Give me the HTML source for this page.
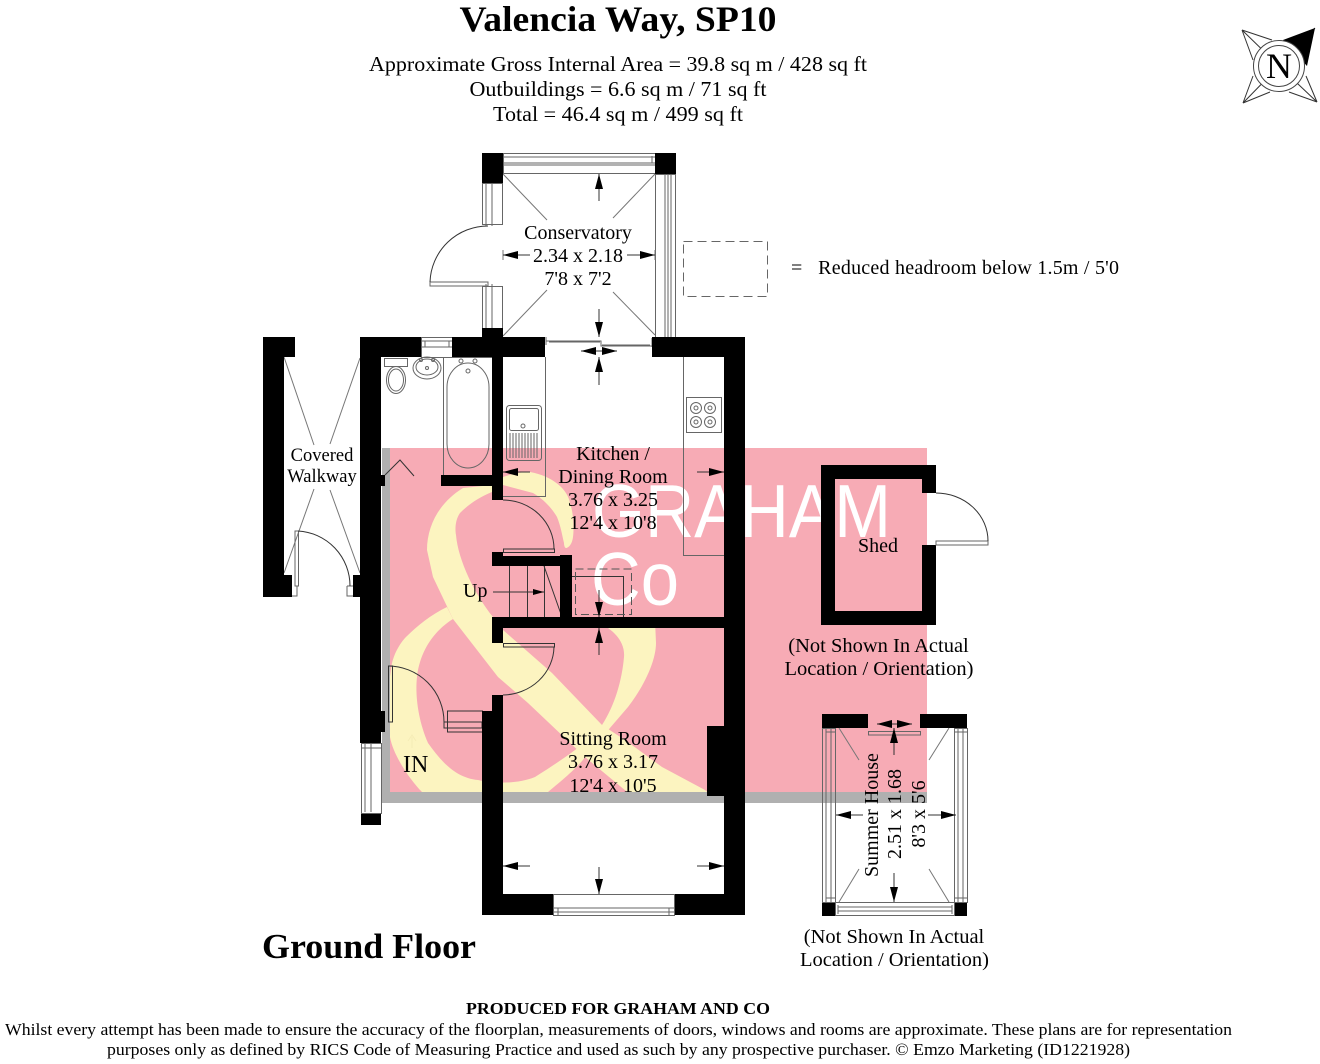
<!DOCTYPE html>
<html><head><meta charset="utf-8"><style>
html,body{margin:0;padding:0;background:#fff}
svg{display:block}
text{font-family:"Liberation Serif",serif;fill:#000;font-size:20px}
.c{text-anchor:middle}
.t{fill:none;stroke:#333;stroke-width:1}
.g{fill:none;stroke:#777;stroke-width:1}
.w{fill:none;stroke:#666;stroke-width:1}
.a{stroke:#333;stroke-width:1;fill:none;marker-end:url(#m)}
</style></head><body>
<svg width="1320" height="1064" viewBox="0 0 1320 1064" xmlns="http://www.w3.org/2000/svg">
<defs>
<marker id="m" markerUnits="userSpaceOnUse" markerWidth="16" markerHeight="10" refX="15" refY="4" orient="auto"><path d="M0,0L15,4L0,8Z" fill="#000"/></marker>
<marker id="s" markerUnits="userSpaceOnUse" markerWidth="12" markerHeight="8" refX="11" refY="3" orient="auto"><path d="M0,0L11,3L0,6Z" fill="#000"/></marker>
<clipPath id="p"><rect x="390" y="448" width="537" height="344"/></clipPath>
</defs>

<!-- watermark -->
<rect x="382" y="448" width="545" height="355" fill="#b0b0b0"/>
<rect x="390" y="448" width="537" height="344" fill="#f7abb5"/>
<g clip-path="url(#p)" fill="#fcf4c0">
<path d="M427,550C427,525 440,502 463,488L492,485L503,477C515,473 522,472 530,472C553,476 568,490 570,503C574,515 574,530 573,537C572,545 568,548 566,548C565,548 564,546 564,543C562,535 561,527 557,517C553,510 545,500 533,493L503,485L492,492C480,497 470,503 460,513C455,520 455,530 456,535C458,560 475,595 493,617L503,630L552,673L602,725L625,740L662,767L705,790L712,796L632,796L585,757L528,703L498,677L453,619L433,577Z"/>
<path d="M447,607C430,615 415,628 405,638C398,646 394,655 392,663C387,690 388,720 390,737C393,755 410,780 422,792L548,792C565,778 580,765 585,757L628,707C645,685 656,660 656,643L655,620L606,620L608,628C618,635 625,645 624,657C622,680 615,705 602,725C590,740 570,755 535,777C515,785 490,783 478,780C455,778 440,760 428,743C418,720 415,695 417,677C420,650 435,630 453,619Z"/>
</g>
<text x="592" y="537" style="font-family:'Liberation Sans',sans-serif;font-size:75px;fill:#fff" textLength="299" lengthAdjust="spacingAndGlyphs">GRAHAM</text>
<text x="591" y="605" style="font-family:'Liberation Sans',sans-serif;font-size:75px;fill:#fff" textLength="88" lengthAdjust="spacingAndGlyphs">Co</text>

<!-- header -->
<text x="618" y="31" class="c" style="font-size:36px;font-weight:bold" textLength="317" lengthAdjust="spacingAndGlyphs">Valencia Way, SP10</text>
<text x="618" y="71" class="c" style="font-size:21.5px" textLength="498" lengthAdjust="spacingAndGlyphs">Approximate Gross Internal Area = 39.8 sq m / 428 sq ft</text>
<text x="618" y="96" class="c" style="font-size:21.5px" textLength="297" lengthAdjust="spacingAndGlyphs">Outbuildings = 6.6 sq m / 71 sq ft</text>
<text x="618" y="121" class="c" style="font-size:21.5px" textLength="250" lengthAdjust="spacingAndGlyphs">Total = 46.4 sq m / 499 sq ft</text>

<!-- compass -->
<path class="t" d="M1242,30L1272,40M1242,30L1253,60M1242,30L1279,66M1315,28L1279,66M1243,103L1253,76M1243,103L1270,92M1243,103L1279,66M1317,102L1306,76M1317,102L1289,92M1317,102L1279,66"/>
<path d="M1315,28L1283,40L1307,66Z" fill="#000"/>
<circle cx="1279" cy="66" r="25.5" fill="#fff" stroke="#444"/>
<circle cx="1279" cy="66" r="20.5" fill="#fff" stroke="#444"/>
<text x="1279" y="78" class="c" style="font-size:36px">N</text>

<!-- legend -->
<rect x="683.5" y="241.5" width="84" height="55" fill="none" stroke="#666" stroke-dasharray="9 5"/>
<text x="791" y="274" style="font-size:20px" textLength="328" xml:space="preserve">=   Reduced headroom below 1.5m / 5'0</text>

<!-- conservatory windows -->
<g class="w">
<rect x="503.5" y="153.5" width="152" height="20"/><path d="M503,157H655M503,163H655M503,165H655M503,156V163M652,156V163"/>
<rect x="655.5" y="174.5" width="20" height="163"/><path d="M665,174V337M668,174V337M671,174V337"/>
<rect x="482.5" y="183.5" width="20" height="41"/><path d="M486,183V226M492,183V226"/>
<rect x="482.5" y="286.5" width="20" height="42"/><path d="M486,284V328M492,284V328"/>
<path d="M546,341H601V346H652M546,337V345M601,341V346M652,338V347M549,342H600M602,345H650"/>
</g>
<path class="w" d="M430,282H488V286H430Z"/>
<path class="t" d="M430,282A58,58 0 0 1 488,226"/>
<path class="g" d="M503,174L547,220M655,174L613,218M503,336L547,290M655,335L613,292"/>
<path class="g" d="M503,250V260M655,250V260"/>
<path class="a" d="M599,201V174"/><path class="a" d="M530,255H503"/><path class="a" d="M627,255H655"/>
<path class="a" d="M599,309V337"/><path class="a" d="M599,385V357"/>
<path class="a" d="M599,351H581"/><path class="a" d="M599,351H617"/>

<!-- fixtures -->
<g class="w">
<rect x="421.5" y="337.5" width="31" height="20"/><path d="M421,341H452M421,347H452M425,341V347M449,341V347"/>
<rect x="443.5" y="357.5" width="49" height="118"/>
<rect x="447" y="363" width="42" height="105" rx="21" ry="24"/>
<circle cx="461" cy="361" r="2"/><circle cx="475" cy="361" r="2"/><circle cx="468" cy="371" r="2"/>
<rect x="384.5" y="358.5" width="23" height="8"/>
<ellipse cx="396" cy="380" rx="9.5" ry="13.5"/><ellipse cx="396" cy="380" rx="7.5" ry="11"/>
<ellipse cx="427" cy="368" rx="14" ry="11"/><ellipse cx="427" cy="367" rx="11" ry="8"/>
<circle cx="421" cy="360" r="1.5"/><circle cx="433" cy="360" r="1.5"/><circle cx="427" cy="368" r="1.5"/>
<path d="M545.5,357V496.5H503"/>
<rect x="506.5" y="405.5" width="35" height="55" rx="3"/>
<rect x="509.5" y="408.5" width="29" height="22" rx="2"/>
<circle cx="523" cy="426" r="2"/>
<path d="M510,433V458M513,433V458M516,433V458M519,433V458M522,433V458M525,433V458M528,433V458M531,433V458M534,433V458M537,433V458"/>
<path d="M683.5,357V555.5H724"/>
<rect x="686.5" y="397.5" width="35" height="35" fill="#fff"/>
<circle cx="696" cy="408" r="5.5"/><circle cx="710" cy="408" r="5.5"/><circle cx="696" cy="422" r="5.5"/><circle cx="710" cy="422" r="5.5"/>
<circle cx="696" cy="408" r="2"/><circle cx="710" cy="408" r="2"/><circle cx="696" cy="422" r="2"/><circle cx="710" cy="422" r="2"/>
</g>
<path class="a" d="M530,472H503"/><path class="a" d="M697,472H724"/>

<!-- stairs -->
<g class="t">
<path d="M509.5,566V617M527.5,566V617M544.5,566V617M544,566L562,617M572,576.5H623.5V617"/>
</g>
<path class="t" d="M493,592H544" marker-end="url(#s)"/>
<rect x="575.5" y="569" width="56" height="45.5" fill="none" stroke="#555" stroke-dasharray="8 4"/>
<path class="a" d="M599,590V617"/><path class="a" d="M599,655V628"/>
<path class="t" d="M385,475L400,460L414,476"/>

<!-- doors -->
<rect x="503.5" y="549" width="51" height="3.5" class="t"/>
<path class="t" d="M503,500A51,49 0 0 1 554,549"/>
<rect x="503.5" y="643.5" width="51" height="3.5" class="t"/>
<path class="t" d="M554,647A52,49 0 0 1 503,695"/>
<rect x="388.5" y="666" width="4" height="56" class="t"/>
<path class="t" d="M388,666A56,56 0 0 1 444,722"/>
<g class="t"><rect x="447.5" y="711" width="35" height="21"/><rect x="444" y="722" width="38" height="6"/></g>
<path d="M412,748V737M408,741L412,735L416,741" stroke="#f5ecb6" fill="none"/>

<!-- walkway -->
<path class="g" d="M284,357L314,445M360,358L330,444M314,489L284,573M330,490L360,573"/>
<rect x="295" y="531" width="3.5" height="55" class="w"/>
<path class="w" d="M291,586V596H297V586M347,586H353M347,586V596H353"/>
<path class="t" d="M298,531A55,55 0 0 1 350,586"/>

<!-- walls -->
<g fill="#000">
<rect x="263" y="337" width="21" height="260"/><rect x="263" y="337" width="32" height="20"/><rect x="263" y="575" width="29" height="22"/>
<rect x="353" y="575" width="8" height="22"/>
<rect x="360" y="337" width="61" height="20"/><rect x="452" y="337" width="93" height="20"/><rect x="652" y="337" width="93" height="20"/>
<rect x="360" y="337" width="21" height="406"/>
<rect x="381" y="475" width="4" height="11"/><rect x="381" y="711" width="4" height="21"/>
<rect x="361" y="813" width="20" height="12"/>
<rect x="724" y="337" width="21" height="578"/>
<rect x="492" y="357" width="11" height="143"/><rect x="441" y="475" width="51" height="11"/>
<rect x="482" y="328" width="21" height="9"/>
<rect x="492" y="552" width="11" height="14"/><rect x="492" y="556" width="80" height="10"/>
<rect x="560" y="555" width="12" height="63"/>
<rect x="492" y="617" width="232" height="11"/><rect x="492" y="617" width="11" height="26"/>
<rect x="492" y="695" width="11" height="16"/><rect x="482" y="711" width="21" height="204"/>
<rect x="482" y="894" width="71" height="21"/><rect x="674" y="894" width="71" height="21"/>
<rect x="707" y="726" width="17" height="70"/>
<rect x="482" y="153" width="21" height="30"/><rect x="655" y="153" width="21" height="21"/>
<!-- shed -->
<path fill-rule="evenodd" d="M821,465H936V493H922V479H835V611H922V545H936V625H821Z"/>
<!-- summer house -->
<rect x="822" y="714" width="46" height="14"/><rect x="920" y="714" width="47" height="14"/>
<rect x="822" y="902" width="13" height="14"/><rect x="954" y="902" width="13" height="14"/>
</g>
<g class="w">
<rect x="361.5" y="743.5" width="20" height="70" fill="#fff"/><path d="M365,743V812M371,743V812M361,748H381"/>
<rect x="553.5" y="894.5" width="121" height="21" fill="#fff"/><path d="M553,908H674M553,912H674M558,908V915M669,908V915"/>
<rect x="936" y="541" width="52" height="4"/>
<rect x="822.5" y="728.5" width="13" height="174"/><rect x="954.5" y="728.5" width="13" height="174"/>
<path d="M826,729V902M831,729V902M958,729V902M963,729V902M826,732H835M954,732H967M826,898H835M954,898H967"/>
<rect x="835.5" y="902.5" width="119" height="13"/><path d="M838,907H952M838,911H952M838,905V914M952,905V914"/>
<rect x="868.5" y="731.5" width="52" height="3.5"/>
</g>
<path class="t" d="M936,493A52,48 0 0 1 988,541"/>
<path class="g" d="M839,728L859,760M949,728L929,760M839,902L859,869M949,902L929,869"/>
<path class="a" d="M863,815H836"/><path class="a" d="M928,815H956"/>
<path class="a" d="M894,755V728"/><path class="a" d="M894,873V902"/>
<path class="a" d="M894,724H877"/><path class="a" d="M894,724H912"/>
<path class="a" d="M530,866H503"/><path class="a" d="M697,866H724"/><path class="a" d="M599,867V894"/>

<!-- labels -->
<text x="578" y="239" class="c">Conservatory</text>
<text x="578" y="262" class="c">2.34 x 2.18</text>
<text x="578" y="285" class="c">7'8 x 7'2</text>
<text x="322" y="461" class="c" style="font-size:18.5px">Covered</text>
<text x="322" y="482" class="c" style="font-size:18.5px">Walkway</text>
<text x="613" y="460" class="c">Kitchen /</text>
<text x="613" y="483" class="c">Dining Room</text>
<text x="613" y="506" class="c">3.76 x 3.25</text>
<text x="613" y="529" class="c">12'4 x 10'8</text>
<text x="463" y="597">Up</text>
<text x="403" y="772" style="font-size:24px">IN</text>
<text x="613" y="745" class="c">Sitting Room</text>
<text x="613" y="768" class="c">3.76 x 3.17</text>
<text x="613" y="792" class="c">12'4 x 10'5</text>
<text x="878" y="552" class="c">Shed</text>
<text x="878.5" y="652" class="c" style="font-size:20.5px">(Not Shown In Actual</text>
<text x="879" y="675" class="c" style="font-size:20.5px">Location / Orientation)</text>
<text x="894" y="943" class="c" style="font-size:20.5px">(Not Shown In Actual</text>
<text x="894.5" y="966" class="c" style="font-size:20.5px">Location / Orientation)</text>
<text transform="translate(878,815) rotate(-90)" class="c">Summer House</text>
<text transform="translate(901,814) rotate(-90)" class="c">2.51 x 1.68</text>
<text transform="translate(925,814) rotate(-90)" class="c">8'3 x 5'6</text>
<text x="262" y="958" style="font-size:35px;font-weight:bold" textLength="214" lengthAdjust="spacingAndGlyphs">Ground Floor</text>

<!-- footer -->
<text x="618" y="1014" class="c" style="font-size:17px;font-weight:bold" textLength="304" lengthAdjust="spacingAndGlyphs">PRODUCED FOR GRAHAM AND CO</text>
<text x="5" y="1035" style="font-size:17px" textLength="1227" lengthAdjust="spacingAndGlyphs">Whilst every attempt has been made to ensure the accuracy of the floorplan, measurements of doors, windows and rooms are approximate. These plans are for representation</text>
<text x="107" y="1055" style="font-size:17px" textLength="1023" lengthAdjust="spacingAndGlyphs">purposes only as defined by RICS Code of Measuring Practice and used as such by any prospective purchaser. © Emzo Marketing (ID1221928)</text>
</svg>
</body></html>
